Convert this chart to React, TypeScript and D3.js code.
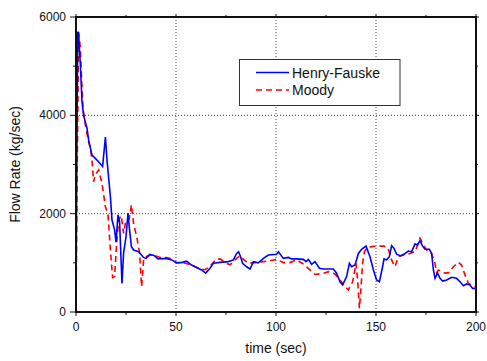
import React from "react";
import * as d3 from "d3";

const xTicks = [0, 50, 100, 150, 200];
const yTicks = [0, 2000, 4000, 6000];
const xMinor = [25, 75, 125, 175];
const yMinor = [1000, 3000, 5000];

const hfTime = [0,0.3,0.9,1.3,1.7,2.2,3,3.8,5.5,6.3,8,10.5,13.3,14.7,15.5,17.2,18,19.3,20,21,21.8,23,23.8,25,26,26.7,27.7,28.8,31.3,33.8,35,37,39,41,45.3,47.8,50.3,52.8,55.3,57.8,59.5,62.8,64.8,67,68.7,72,76.2,78.7,80.3,81.3,82.3,83.3,85.3,87,88.7,91.2,93.7,96.2,100.3,101.2,103.7,106.2,107.8,110.3,113.7,115,116.2,117.8,119.5,121.7,123.7,128.7,130.3,132,133.3,135.3,136.7,137.8,139.5,141.2,142.8,145,147,148.7,150.3,151.7,153.3,154,155.3,156.7,157.8,159,160.3,162.3,164.5,166.2,167.8,169.5,170.7,172,173.3,174.5,176.7,177.8,178.7,179.5,180.8,182,183.3,185.3,187.8,190.3,192,193.7,195.3,197,198.3,200];
const hfFlow = [0,2500,5700,5650,5360,5020,4280,4000,3740,3500,3190,3090,2960,3560,3090,2345,1870,1670,1420,1975,1830,580,1200,1530,2010,1700,1330,1260,1225,1110,1090,1170,1150,1080,1090,1060,1005,1005,1035,955,920,855,790,890,990,1010,1025,1060,1190,1225,1125,990,920,875,1025,1000,1090,1160,1175,1225,1090,1110,1080,1080,1070,1025,1070,970,1025,890,875,875,790,615,550,720,990,920,955,1190,1275,1340,1125,855,650,615,920,1080,1060,1125,1350,1295,1175,1140,1190,1240,1225,1385,1365,1450,1340,1275,1275,1190,855,685,790,685,630,650,705,685,615,535,570,550,480,480];

const moodyTime = [0,0.5,1.3,2.2,2.7,3.5,4.7,6.3,7.2,8,8.8,9.7,11.3,13,14.7,16,17.2,18.3,19.3,20.2,21.3,22.6,23.8,25,26.5,27.7,28.8,30.5,31.8,32.8,33.8,35,37,38.7,42,45.3,47,50.3,53.7,57.8,62,64.5,67,70,72,75.3,77,78.7,80.3,82,84,86.2,89.5,93.7,97,100.3,103.7,107,110.3,113.7,117,119.5,122.8,126.2,129.5,132,134.5,136.2,138.3,140,140.8,141.7,142.3,143.3,144.2,145.3,147.8,150.7,154,156,157.8,159.5,161.2,163.7,167,169.5,170.8,172,173.3,175.3,177.8,179.5,180.3,181.2,182.8,184.5,186.5,188.7,191.2,192.8,194.5,196.2,197.8,200];
const moodyFlow = [0,2500,5700,5360,4820,4140,3800,3460,3330,3090,2650,2790,2890,2620,2140,1975,1260,700,720,1330,1870,1960,1600,1870,1880,2180,1800,1500,1190,515,1060,1125,1160,1160,1110,1105,1090,1000,1005,955,875,860,930,1070,1080,990,960,1025,1090,1140,1060,990,1005,1025,1040,1070,1005,1005,1060,975,855,765,775,820,775,650,515,450,615,990,650,75,380,990,1225,1295,1330,1340,1340,1300,1060,920,1125,1160,1190,1225,1365,1500,1400,1260,1190,990,800,855,820,790,800,920,1010,955,750,585,550,515];

const W = 487, H = 361;
const L = 76, R = 476, T = 17, B = 312;

export default function App() {
  const x = d3.scaleLinear().domain([0, 200]).range([L, R]);
  const y = d3.scaleLinear().domain([0, 6000]).range([B, T]);
  const hf = hfTime.map((t, i) => [t, hfFlow[i]] as [number, number]);
  const md = moodyTime.map((t, i) => [t, moodyFlow[i]] as [number, number]);
  const line = d3.line<[number, number]>().x(d => x(d[0])).y(d => y(d[1]));
  const font = "Arial, 'Liberation Sans', Helvetica, sans-serif";
  return (
    <svg width={W} height={H} style={{ position: "absolute", left: 0, top: 0, background: "#fff" }} fontFamily={font}>
      <rect x={0} y={0} width={W} height={H} fill="#fff" />
      {xTicks.slice(1, -1).map(v => (
        <line key={"gx" + v} x1={x(v)} x2={x(v)} y1={T} y2={B} stroke="#444" strokeWidth={1} strokeDasharray="1,2" />
      ))}
      {yTicks.slice(1, -1).map(v => (
        <line key={"gy" + v} x1={L} x2={R} y1={y(v)} y2={y(v)} stroke="#444" strokeWidth={1} strokeDasharray="1,2" />
      ))}
      <path d={line(md) || ""} fill="none" stroke="#ff0000" strokeWidth={1.6} strokeDasharray="6,4" />
      <path d={line(hf) || ""} fill="none" stroke="#0000ff" strokeWidth={1.6} />
      <rect x={L} y={T} width={R - L} height={B - T} fill="none" stroke="#111" strokeWidth={2} />
      {xTicks.map(v => (
        <g key={"tx" + v}>
          <line x1={x(v)} x2={x(v)} y1={B} y2={B + 4} stroke="#111" strokeWidth={1} />
          <line x1={x(v)} x2={x(v)} y1={T} y2={T - 3} stroke="#111" strokeWidth={1} />
          <text x={x(v)} y={331} fontSize={12} textAnchor="middle" fill="#111">{v}</text>
        </g>
      ))}
      {xMinor.map(v => (
        <g key={"mx" + v}>
          <line x1={x(v)} x2={x(v)} y1={B} y2={B + 3} stroke="#111" strokeWidth={1} />
          <line x1={x(v)} x2={x(v)} y1={T} y2={T - 2} stroke="#111" strokeWidth={1} />
        </g>
      ))}
      {yTicks.map(v => (
        <g key={"ty" + v}>
          <line x1={L - 6} x2={L} y1={y(v)} y2={y(v)} stroke="#111" strokeWidth={1} />
          <line x1={R} x2={R + 3} y1={y(v)} y2={y(v)} stroke="#111" strokeWidth={1} />
          <text x={66} y={y(v) + 4} fontSize={12} textAnchor="end" fill="#111">{v}</text>
        </g>
      ))}
      {yMinor.map(v => (
        <g key={"my" + v}>
          <line x1={L - 3} x2={L} y1={y(v)} y2={y(v)} stroke="#111" strokeWidth={1} />
          <line x1={R} x2={R + 2} y1={y(v)} y2={y(v)} stroke="#111" strokeWidth={1} />
        </g>
      ))}
      <text x={(L + R) / 2} y={353} fontSize={14} textAnchor="middle" fill="#111">time (sec)</text>
      <text transform={`translate(20,${(T + B) / 2}) rotate(-90)`} fontSize={14} textAnchor="middle" fill="#111">Flow Rate (kg/sec)</text>
      <g>
        <rect x={239.5} y={59.5} width={160.5} height={46} fill="#fff" stroke="#333" strokeWidth={1} />
        <line x1={256} x2={289} y1={72.5} y2={72.5} stroke="#0000ff" strokeWidth={1.6} />
        <line x1={256} x2={289} y1={90} y2={90} stroke="#ff0000" strokeWidth={1.6} strokeDasharray="6,4" />
        <text x={292} y={78} fontSize={14} fill="#111">Henry-Fauske</text>
        <text x={292} y={95} fontSize={14} fill="#111">Moody</text>
      </g>
    </svg>
  );
}
